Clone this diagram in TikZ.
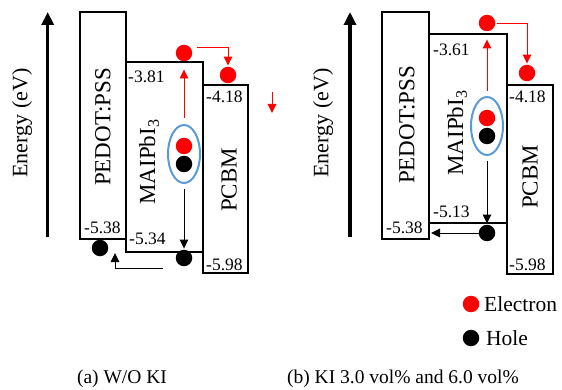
\documentclass[tikz,border=0pt]{standalone}
\usepackage{fontspec}
\setmainfont{Liberation Serif}
\usetikzlibrary{arrows.meta,calc,shapes.geometric}
\definecolor{ellblue}{RGB}{91,155,213}
\tikzset{
  band/.style={draw=black, line width=2pt, minimum width=#1, anchor=north west, inner sep=0pt, outer sep=0pt},
  lvl/.style={font=\fontsize{17.5}{20}\selectfont, inner sep=0pt, anchor=west},
  layer/.style={font=\fontsize{23}{26}\selectfont, rotate=90, inner sep=0pt},
  elabel/.style={font=\fontsize{22}{25}\selectfont, rotate=90, inner sep=0pt},
  edot/.style={circle, fill=red, minimum size=16.5pt, inner sep=0pt},
  hdot/.style={circle, fill=black, minimum size=16.5pt, inner sep=0pt},
  pair/.style={ellipse, draw=ellblue, line width=2pt, minimum width=32pt, minimum height=58pt, inner sep=0pt},
  bigarrow/.style={line width=3.5pt, -{Triangle[length=13pt,width=12pt]}},
  redarr/.style={draw=red, line width=1pt, -{Triangle[length=9pt,width=8.5pt]}},
  blkarr/.style={draw=black, line width=1pt, -{Triangle[length=9pt,width=8.5pt]}},
  caption/.style={font=\fontsize{19.5}{22}\selectfont, inner sep=0pt},
  legend/.style={font=\fontsize{21.5}{24}\selectfont, inner sep=0pt, anchor=west},
}
\begin{document}
\begin{tikzpicture}[x=1pt,y=-1pt]
\useasboundingbox (0,0) rectangle (562,390);
% ---------- panel (a)
\coordinate (arAbot) at (47.7,237);
\coordinate (arAtop) at (47.7,12);
\draw[bigarrow] (arAbot) -- (arAtop);
\node[elabel] (enA) at (22,123) {Energy (eV)};
\node[band=46pt, minimum height=227pt] (pedA) at (80,12) {};
\node[band=77pt, minimum height=190pt] (maiA) at (126,62) {};
\node[band=45pt, minimum height=188pt] (pcbA) at (203,85) {};
\node[layer] (tpedA) at (103,127) {PEDOT:PSS};
\node[layer] (tmaiA) at (149,162) {MAIPbI\textsubscript{3}};
\node[layer] (tpcbA) at (229,180) {PCBM};
\node[lvl] (l1A) at (84,228) {-5.38};
\node[lvl] (l2A) at (128,77) {-3.81};
\node[lvl] (l3A) at (206,97) {-4.18};
\node[lvl] (l4A) at (129,239) {-5.34};
\node[lvl] (l5A) at (206,265) {-5.98};
\node[pair] (ellA) at (184,154) {};
\node[edot] (eInA) at (184,146) {};
\node[hdot] (hInA) at (184,164) {};
\node[edot] (eTopA) at (184,53) {};
\node[edot] (eAccA) at (228,75) {};
\node[hdot] (hBotA) at (184,258) {};
\node[hdot] (hLeftA) at (100,248) {};
\draw[redarr] ([yshift=6pt]ellA.north) -- ([yshift=-8pt]eTopA.south);
\draw[redarr] ([xshift=5pt,yshift=5pt]eTopA.east) -| ([yshift=1pt]eAccA.north);
\draw[blkarr] ([yshift=-5pt]ellA.south) -- ([yshift=1pt]hBotA.north);
\coordinate (hsA) at (163,268);
\coordinate (htA) at (115,253);
\draw[blkarr] (hsA) -| (htA);
\coordinate (rfA1) at (272,92);
\coordinate (rfA2) at (272,113);
\draw[redarr] (rfA1) -- (rfA2);
% ---------- panel (b)
\coordinate (arBbot) at (350,237);
\coordinate (arBtop) at (350,12);
\draw[bigarrow] (arBbot) -- (arBtop);
\node[elabel] (enB) at (323,123) {Energy (eV)};
\node[band=47pt, minimum height=227pt] (pedB) at (382,12) {};
\node[band=78pt, minimum height=189pt] (maiB) at (429,34) {};
\node[band=46pt, minimum height=189pt] (pcbB) at (507,85) {};
\node[layer] (tpedB) at (407,125) {PEDOT:PSS};
\node[layer] (tmaiB) at (457,133) {MAIPbI\textsubscript{3}};
\node[layer] (tpcbB) at (530,177) {PCBM};
\node[lvl] (l1B) at (433,50) {-3.61};
\node[lvl] (l2B) at (509,97) {-4.18};
\node[lvl] (l3B) at (433,212) {-5.13};
\node[lvl] (l4B) at (386,228) {-5.38};
\node[lvl] (l5B) at (509,265) {-5.98};
\node[pair] (ellB) at (487,126) {};
\node[edot] (eInB) at (487,118) {};
\node[hdot] (hInB) at (487,136) {};
\node[edot] (eTopB) at (487,23) {};
\node[edot] (eAccB) at (527,73) {};
\node[hdot] (hBotB) at (487,233) {};
\draw[redarr] ([yshift=5pt]ellB.north) -- ([yshift=-8pt]eTopB.south);
\draw[redarr] ([xshift=2pt,yshift=-1pt]eTopB.east) -| ([yshift=1pt]eAccB.north);
\draw[blkarr] ([yshift=-5pt]ellB.south) -- ([yshift=1pt]hBotB.north);
\draw[blkarr, shorten >=2pt] (hBotB.west) -- (hBotB.west -| pedB.east);
% ---------- legend
\node[edot] (legE) at (471,304) {};
\node[hdot] (legH) at (471,338) {};
\node[legend] (legEt) at (484,304) {Electron};
\node[legend] (legHt) at (486,338) {Hole};
% ---------- captions
\node[caption] (capA) at (122,379) {(a) W/O KI};
\node[caption] (capB) at (403,379) {(b) KI 3.0 vol\% and 6.0 vol\%};
\end{tikzpicture}
\end{document}
